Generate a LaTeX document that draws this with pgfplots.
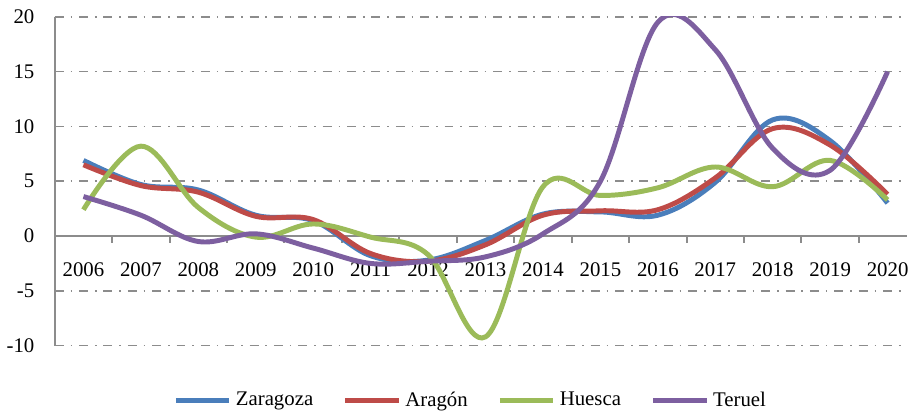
\documentclass[border=0pt]{standalone}
\usepackage{fontspec}
\setmainfont{Liberation Serif}
\usepackage{pgfplots}
\pgfplotsset{compat=1.18}
\definecolor{czar}{HTML}{4A7EBB}
\definecolor{cara}{HTML}{BE4B48}
\definecolor{chue}{HTML}{9BBB59}
\definecolor{cter}{HTML}{7D5FA0}
\definecolor{cgrid}{HTML}{8C8C8C}
\begin{document}
\begin{tikzpicture}
\begin{axis}[
  scale only axis,
  width=430.5pt, height=166pt,
  xmin=-0.5, xmax=14.345,
  ymin=-10, ymax=20,
  axis x line=middle,
  axis y line*=left,
  x axis line style={-, draw=cgrid, line width=1pt},
  y axis line style={-, draw=cgrid, line width=1pt},
  xtick={0,...,14},
  xticklabels={2006,2007,2008,2009,2010,2011,2012,2013,2014,2015,2016,2017,2018,2019,2020},
  major x tick style={draw=none},
  minor xtick={0.5,1.5,...,13.5},
  minor x tick style={draw=cgrid, line width=1pt},
  minor tick length=3.5pt,
  tick align=outside,
  ytick={-10,-5,0,5,10,15,20},
  major y tick style={draw=none},
  ymajorgrids,
  major grid style={draw=cgrid, line width=0.8pt, dash pattern=on 4.5pt off 3.5pt on 0.8pt off 3.5pt},
  /pgf/number format/assume math mode=true,
  ticklabel style={font=\fontsize{10.5}{12}\selectfont},
  yticklabel style={xshift=-2.5pt},
  xticklabel style={yshift=-5.5pt, fill=none},
  legend style={at={(0.489,-0.167)}, anchor=center, draw=none, fill=none,
    legend columns=4, font=\fontsize{10.5}{12}\selectfont,
    /tikz/every even column/.append style={column sep=13pt},
    inner sep=0pt},
  legend image code/.code={\draw[#1, line width=2.5pt] (0,0) -- (27pt,0);},
  every axis plot/.append style={line width=2.5pt, smooth, tension=0.6, mark=none},
]
\addplot[czar] coordinates {(0,6.9) (1,4.7) (2,4.2) (3,1.9) (4,1.4) (5,-1.8) (6,-2.2) (7,-0.4) (8,2.0) (9,2.2) (10,1.9) (11,4.9) (12,10.6) (13,8.7) (14,3.0)};
\addplot[cara] coordinates {(0,6.5) (1,4.6) (2,4.0) (3,1.8) (4,1.5) (5,-1.6) (6,-2.3) (7,-0.8) (8,1.9) (9,2.3) (10,2.4) (11,5.3) (12,9.8) (13,8.3) (14,3.8)};
\addplot[chue] coordinates {(0,2.4) (1,8.2) (2,2.6) (3,-0.1) (4,1.1) (5,-0.1) (6,-1.7) (7,-9.2) (8,4.5) (9,3.7) (10,4.4) (11,6.3) (12,4.5) (13,6.9) (14,3.3)};
\addplot[cter] coordinates {(0,3.6) (1,1.9) (2,-0.5) (3,0.2) (4,-1.1) (5,-2.5) (6,-2.3) (7,-1.9) (8,0.2) (9,5.0) (10,19.5) (11,17.0) (12,8.0) (13,6.0) (14,15.0)};
\legend{Zaragoza,Aragón,Huesca,Teruel}
\end{axis}
\path ([yshift=8.5pt]current axis.north);
\end{tikzpicture}
\end{document}
